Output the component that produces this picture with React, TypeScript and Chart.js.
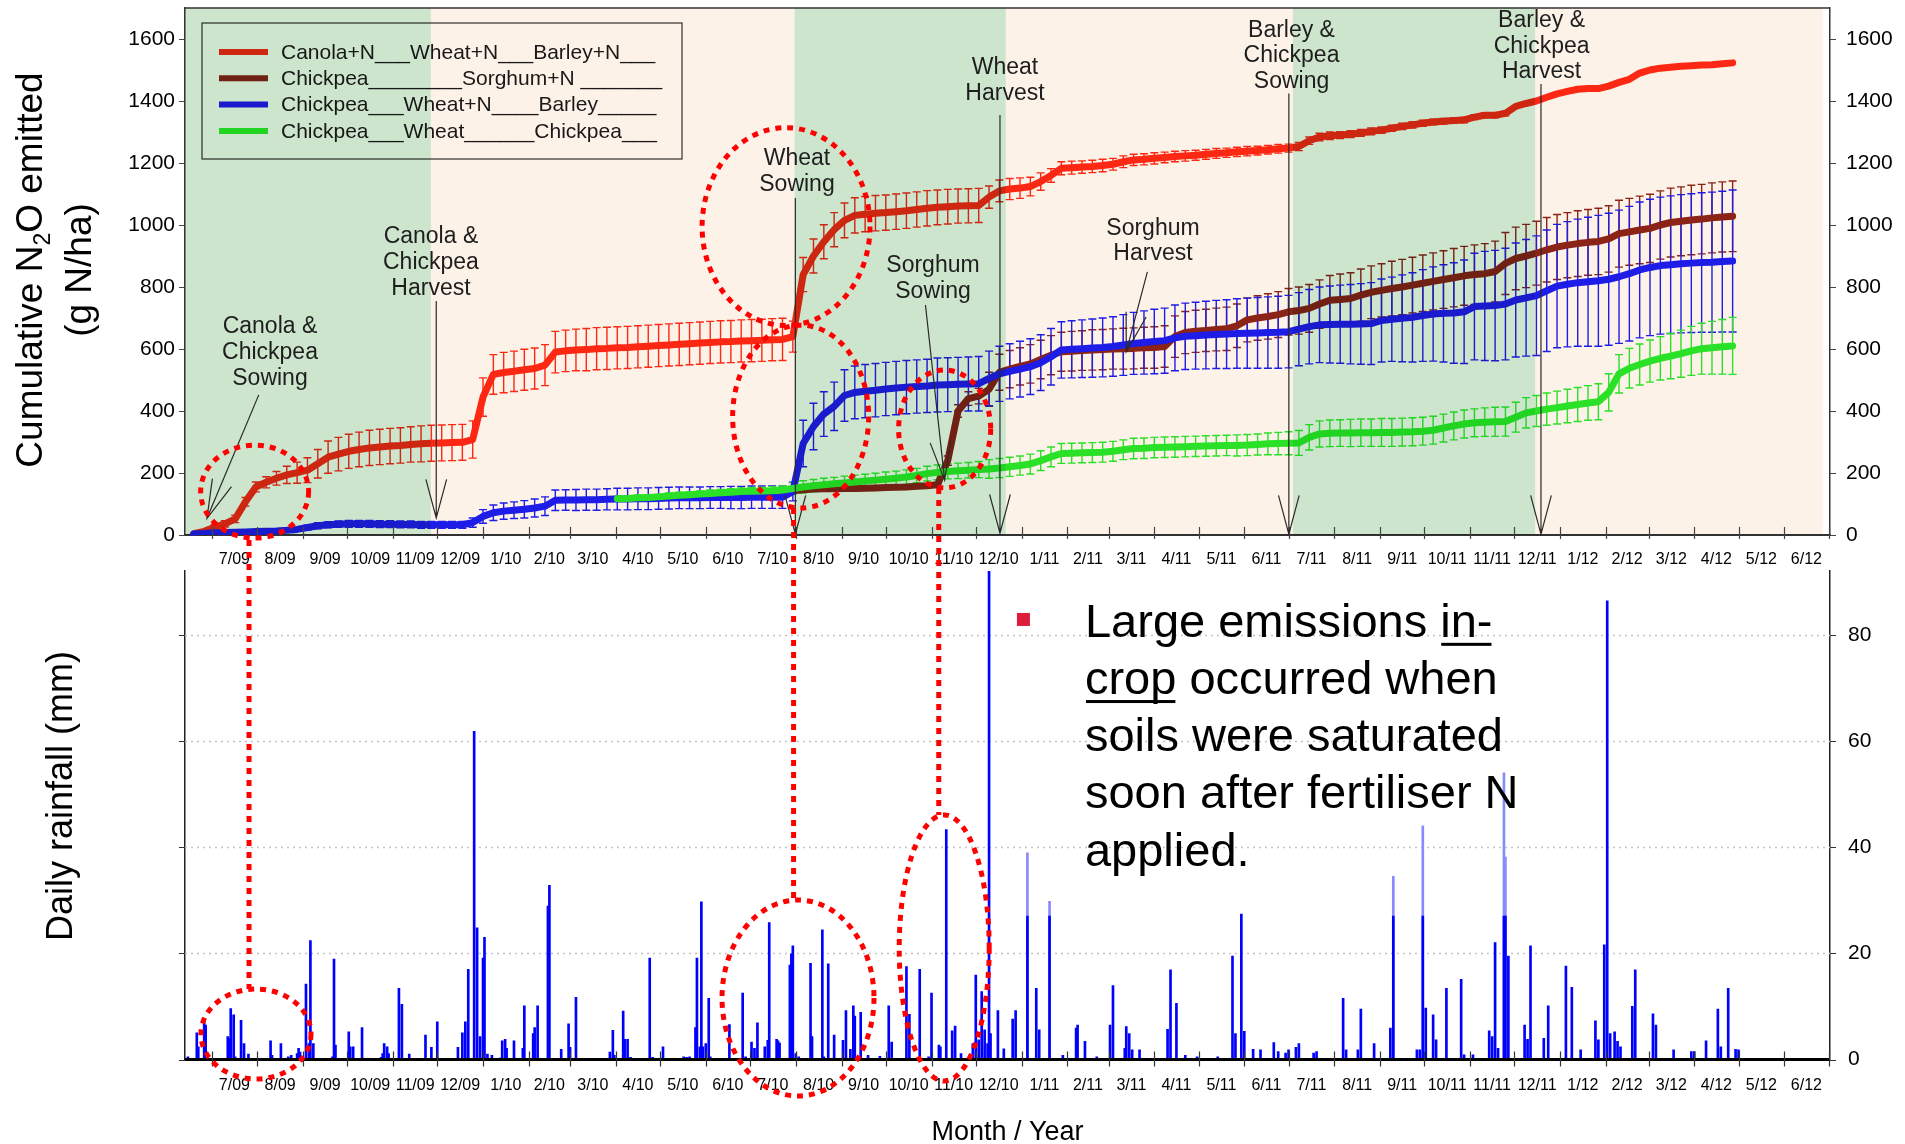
import React, { useEffect, useRef } from 'react';
import { Chart, registerables } from 'chart.js';

Chart.register(...registerables);

const FONT = "'Liberation Sans', Arial, Helvetica, sans-serif";
const CANVAS_W = 1905;
const CANVAS_H = 1144;

// Days are counted from 1 June 2009 (= day 0)
const X_MIN = 12;
const X_MAX = 1127;
const WEEK_START = 18; // first weekly N2O measurement (18 June 2009)
const WEEK_STEP = 7;

const xTickLabels = ['7/09', '8/09', '9/09', '10/09', '11/09', '12/09', '1/10', '2/10', '3/10', '4/10', '5/10', '6/10',
  '7/10', '8/10', '9/10', '10/10', '11/10', '12/10', '1/11', '2/11', '3/11', '4/11', '5/11', '6/11',
  '7/11', '8/11', '9/11', '10/11', '11/11', '12/11', '1/12', '2/12', '3/12', '4/12', '5/12', '6/12'];
const n2oTickValues = [0, 200, 400, 600, 800, 1000, 1200, 1400, 1600];
const rainTickValues = [0, 20, 40, 60, 80];

const legendLabels = [
  'Canola+N___Wheat+N___Barley+N___',
  'Chickpea________Sorghum+N _______',
  'Chickpea___Wheat+N____Barley_____',
  'Chickpea___Wheat______Chickpea___',
];
const seriesColors = ['#ff2a14', '#8c2418', '#1e1eff', '#2aee2a'];

// Weekly cumulative N2O (g N/ha)
const canolaWheatBarley = [4, 12, 25, 36, 52, 107, 155, 170, 183, 194, 201, 209, 230, 251, 261, 270, 276, 281, 284, 287,
  289, 292, 294, 296, 297, 298, 299, 308, 445, 518, 524, 528, 533, 537, 548, 590, 594, 597, 598, 601,
  602, 604, 605, 607, 609, 611, 613, 615, 617, 619, 621, 623, 624, 626, 627, 628, 630, 631, 640, 840,
  900, 946, 985, 1015, 1031, 1035, 1038, 1040, 1043, 1046, 1050, 1054, 1057, 1059, 1061, 1062, 1063, 1090, 1110, 1116,
  1119, 1124, 1140, 1160, 1183, 1185, 1187, 1189, 1192, 1196, 1204, 1210, 1212, 1215, 1218, 1221, 1223, 1225, 1228, 1231,
  1233, 1236, 1238, 1240, 1243, 1246, 1248, 1253, 1272, 1284, 1288, 1290, 1293, 1297, 1302, 1306, 1312, 1318, 1323, 1328,
  1332, 1335, 1337, 1339, 1348, 1354, 1354, 1360, 1383, 1392, 1400, 1412, 1423, 1431, 1438, 1440, 1440, 1448, 1460, 1470,
  1490, 1500, 1506, 1509, 1512, 1514, 1516, 1517, 1520, 1523];
const canolaWheatBarleyErr = [0, 5, 8, 10, 12, 14, 16, 18, 22, 28, 34, 40, 46, 52,
  54, 55, 56, 57, 57, 57, 57, 57, 58, 58, 58, 58, 58,
  60, 62, 64, 65, 65, 66, 66, 66, 67, 67, 67, 68, 68, 68, 68, 68, 68, 68, 68, 68, 68, 68, 68, 68, 68, 68, 68, 68, 68, 68, 68,
  50, 55, 55, 55, 55, 56, 57, 57, 57, 57, 57, 57, 57, 57, 56, 56, 55, 55, 55,
  36, 35, 34, 33, 30, 28,
  22, 21, 21, 20, 20, 20, 19, 19, 18, 18, 18, 17, 17, 17, 16, 16, 16, 15, 15, 15, 14, 14, 14,
  13, 13, 12, 12, 12, 11, 11, 11, 11, 10, 10, 10, 10, 10, 9, 9, 9, 9, 8, 8, 8, 8,
  0, 0, 0, 0, 0, 0, 0, 0, 0, 0, 0, 0, 0, 0, 0, 0, 0, 0, 0, 0, 0, 0];

const N57 = Array(57).fill(null);
const chickpeaSorghum = [...N57, 141, 143, 146, 148, 149, 149, 150, 150, 151, 152,
  153, 154, 155, 157, 159, 162, 240, 400, 440, 448, 470, 525, 535, 544, 552, 566, 580, 591, 593, 595,
  597, 598, 600, 601, 602, 604, 605, 608, 640, 653, 657, 660, 663, 665, 675, 694, 700, 705, 711, 720,
  724, 731, 745, 757, 760, 763, 774, 783, 789, 795, 800, 806, 812, 818, 824, 830, 836, 840, 843, 850,
  876, 892, 900, 909, 920, 929, 935, 940, 944, 947, 955, 972, 978, 984, 989, 1000, 1008, 1012, 1016, 1019,
  1023, 1026, 1028];
const chickpeaSorghumErr = [...N57, 5, 5, 5, 5, 5, 5, 5, 5, 5, 5, 5, 5, 5, 5, 5, 5,
  15, 20, 22, 25,
  55, 58, 60, 60, 62, 62, 63, 63, 64, 64, 65, 65, 65, 66, 66, 66, 67, 67, 67, 68, 68, 68, 69, 70,
  70, 71, 72, 73, 74, 75, 76, 77, 78, 80, 82, 83, 84, 85, 86, 88, 89, 90, 91, 92, 93, 94, 95, 96, 97, 98, 100,
  101, 102, 103, 104, 105, 105, 106, 106, 107, 107, 108, 108, 109, 110, 110, 111, 111, 112, 112, 113, 113, 114];

const chickpeaWheatNBarley = [3, 5, 7, 8, 9, 10, 11, 12, 13, 15, 18, 24, 30, 33, 35, 36, 36, 36, 35, 35,
  34, 34, 33, 33, 33, 33, 33, 40, 60, 72, 77, 80, 83, 87, 93, 112, 113, 113, 114, 114,
  115, 116, 116, 117, 117, 118, 119, 120, 120, 120, 121, 121, 121, 121, 122, 122, 122, 122, 140, 295,
  350, 390, 415, 450, 460, 464, 467, 471, 474, 477, 479, 481, 484, 485, 486, 487, 488, 505, 520, 528,
  535, 543, 556, 575, 597, 599, 601, 603, 605, 608, 613, 618, 621, 624, 627, 636, 641, 643, 645, 647,
  648, 650, 651, 652, 653, 654, 656, 664, 672, 678, 679, 680, 680, 681, 682, 692, 696, 699, 702, 708,
  713, 715, 716, 720, 737, 739, 740, 745, 758, 765, 772, 788, 803, 809, 814, 817, 820, 825, 833, 843,
  855, 863, 869, 872, 875, 877, 879, 880, 882, 884];
const chickpeaWheatNBarleyErr = [2, 3, 3, 3, 3, 4, 4, 4, 5, 5, 6,
  8, 10, 10, 10, 11, 11, 11, 11, 11, 11, 11, 11, 11, 11, 11, 11,
  15, 22, 25, 26, 27, 28, 29, 30,
  33, 33, 34, 34, 34, 34, 35, 35, 35, 35, 35, 35, 35, 35, 35, 35, 35, 36, 36, 36, 36, 36, 36,
  30, 75, 75, 72, 78, 83, 85, 86, 86, 86, 86, 86, 86, 86, 87, 87, 87, 87, 88,
  88, 89, 89, 90, 90, 90, 91, 91, 92, 93, 94, 95, 96, 98,
  100, 102, 104, 105, 106, 107, 108, 109, 110, 111, 112, 113, 114, 115, 116,
  117, 118, 120, 122, 124, 126, 128, 130, 132, 134,
  136, 140, 144, 148, 152, 157, 162, 167, 172, 176,
  178, 180, 184, 188, 193,
  196, 199, 202, 205, 208, 211, 213, 215, 217, 219,
  220, 221, 222, 223, 224, 225, 226, 227, 229];

const N41 = Array(41).fill(null);
const chickpeaWheatChickpea = [...N41, 117, 118, 120, 121, 123, 126, 128, 130, 132, 134,
  136, 138, 140, 141, 142, 143, 145, 150, 155, 159, 162, 165, 168, 171, 174, 177, 180, 183, 187, 192,
  198, 202, 205, 207, 209, 211, 213, 216, 220, 224, 229, 240, 252, 263, 264, 265, 266, 267, 270, 275,
  279, 280, 282, 283, 284, 285, 286, 287, 288, 289, 289, 290, 292, 294, 295, 296, 297, 315, 326, 328,
  329, 329, 330, 330, 331, 331, 332, 333, 335, 338, 345, 352, 358, 362, 364, 365, 366, 380, 394, 400,
  406, 411, 416, 421, 426, 430, 460, 520, 538, 550, 561, 570, 577, 585, 594, 601, 604, 607, 610];
const chickpeaWheatChickpeaErr = [...N41, 8, 8, 9, 9, 9, 10, 10, 10, 10, 11, 11, 11, 12, 12, 12, 13, 13,
  18, 20, 20, 21, 21, 22, 22, 22, 22, 23, 23, 23, 23, 24, 24, 24, 25, 25, 26,
  30, 31, 31, 31, 32, 32, 32, 32, 32, 32, 32, 32, 32, 32, 33, 33, 33, 33, 33, 33, 33, 33, 33, 33, 34, 34, 34, 35, 36, 37,
  40, 41, 42, 43, 43, 44, 44, 44, 45, 45, 45, 45, 45, 45, 45, 45, 45, 45,
  46, 47, 47, 48, 49, 50, 52, 53, 54, 55, 56, 58,
  60, 62, 64, 66, 68, 70, 73, 76, 79, 82, 85, 88, 92];

// Daily rainfall [day, mm]
const dailyRain = [
  [14, 0.5], [20, 5], [21, 2.4], [25, 7.7], [26, 6.5], [41, 4.3], [42, 4], [43, 9.6], [45, 8.4], [46, 0.5], [50, 7.4], [52, 3], [55, 1],
  [70, 3.5], [71, 0.8], [77, 3], [82, 0.5], [84, 0.8], [88, 1.1], [89, 2.1], [90, 1.4], [94, 14.2], [96, 3], [97, 22.4], [99, 3],
  [112, 0.5], [113, 18.9], [114, 2.7], [123, 5.2], [124, 2.4], [126, 2.4], [132, 6], [133, 0.2], [145, 0.4], [146, 1.1], [147, 3],
  [149, 2.4], [150, 1.1], [157, 13.4], [159, 10.4], [164, 1], [175, 4.6], [179, 2.3], [183, 7.1], [186, 0.2], [197, 2.3], [200, 5],
  [202, 7.1], [204, 17], [208, 61.8], [210, 24.8], [212, 4.3], [214, 19.1], [215, 23], [217, 1], [220, 0.8], [226, 0.3], [227, 3.5],
  [229, 3.8], [230, 2.1], [235, 3.5], [241, 2.1], [242, 10.1], [248, 4.9], [249, 6], [251, 10.1], [258, 28.9], [259, 32.8], [267, 1.9],
  [272, 6.7], [273, 2.3], [277, 11.7], [278, 0.2], [300, 1.4], [302, 5.5], [303, 0.8], [309, 9.1], [310, 3.8], [312, 3.8], [314, 0.4],
  [327, 19.1], [329, 0.4], [336, 2.4], [350, 0.5], [352, 0.4], [354, 0.5], [358, 6], [359, 19.1], [361, 2.4], [362, 29.7], [363, 2.4],
  [365, 3], [367, 11.5], [368, 0.5], [378, 0.2], [381, 6.6], [390, 12.5], [392, 0.5], [396, 3.3], [398, 2.1], [400, 6.9], [405, 2.4],
  [407, 3.6], [408, 25.8], [413, 3.8], [414, 3.5], [415, 3.1], [422, 17.8], [423, 19.9], [424, 21.4], [426, 1.1], [428, 0.5], [436, 18.1],
  [437, 4.3], [441, 0.2], [444, 24.4], [445, 0.5], [448, 18], [452, 4.6], [458, 3.6], [460, 9.2], [463, 1.9], [465, 10.1], [466, 8.2],
  [470, 8.9], [475, 0.8], [483, 0.6], [489, 10.1], [491, 3.3], [501, 17.5], [503, 8.5], [510, 17], [516, 0.5], [518, 12.5], [523, 2.7],
  [524, 2.4], [528, 43.3], [532, 5.4], [534, 6.3], [538, 1.1], [546, 3], [548, 15.9], [550, 3.7], [552, 12.8], [554, 5.6], [556, 3],
  [557, 95], [558, 4.9], [563, 9.2], [567, 2], [573, 7.6], [575, 9.2], [583, 27], [589, 13.4], [591, 5.6], [598, 27], [607, 0.8],
  [616, 5.9], [617, 6.5], [622, 3.4], [630, 0.5], [639, 6.5], [641, 13.9], [649, 2.1], [650, 6.2], [652, 4.9], [654, 1.8], [659, 1.8],
  [678, 5.7], [680, 16.9], [684, 10.6], [690, 0.8], [698, 0.5], [712, 0.5], [722, 19.5], [724, 4.9], [728, 27.4], [730, 5.3], [736, 1.9],
  [741, 1.8], [750, 3.2], [753, 1.5], [758, 1.2], [760, 1.8], [765, 2.3], [767, 3], [777, 1.2], [779, 1.5], [797, 11.5], [799, 1.8],
  [807, 1.8], [809, 9.5], [818, 3], [829, 5.9], [831, 27], [847, 1.8], [849, 1.8], [851, 27], [853, 9.7], [858, 8.4], [860, 3.7],
  [867, 13.4], [877, 15.1], [879, 0.9], [885, 0.9], [896, 5.4], [898, 4.3], [900, 22], [902, 2.1], [906, 27], [907, 27], [909, 19.5],
  [920, 6.5], [922, 3.8], [924, 21.4], [933, 4], [936, 10.1], [948, 17.6], [952, 13.6], [958, 1.8], [968, 7.3], [970, 3.7], [974, 21.6],
  [976, 86.4], [978, 4.9], [981, 5.2], [983, 3.4], [985, 2.4], [993, 10], [995, 16.9], [1007, 8.6], [1009, 6.5], [1021, 1.8], [1033, 1.5],
  [1035, 1.5], [1043, 3.5], [1051, 9.5], [1053, 2.4], [1058, 13.4], [1063, 1.9], [1065, 1.8],
];
const secondGaugeRain = [[583, 38.9], [598, 29.8], [831, 34.5], [851, 44], [906, 54], [907, 38.1]];

// Crop periods (day edges) and their shading
const cropPeriodEdges = [12, 178.6, 425.2, 568.3, 763, 927.1, 1122];
const cropPeriodShades = ['#cde4cd', '#fdf2e8', '#cde4cd', '#fdf2e8', '#cde4cd', '#fdf2e8'];

// Crop event annotations: text lines, text centre [day, g N/ha], arrow from / to [day, g N/ha]
const cropEventLabels = [
  ['Canola &', 'Chickpea', 'Sowing'],
  ['Canola &', 'Chickpea', 'Harvest'],
  ['Wheat', 'Sowing'],
  ['Sorghum', 'Sowing'],
  ['Wheat', 'Harvest'],
  ['Sorghum', 'Harvest'],
  ['Barley &', 'Chickpea', 'Sowing'],
  ['Barley &', 'Chickpea', 'Harvest'],
];
const cropEventTextAt = [[69.6, 671], [178.7, 961], [426.8, 1213], [519, 868], [567.8, 1506], [668.1, 989], [762, 1628], [931.5, 1659]];
const cropEventArrowFrom = [[62, 452], [182.3, 755], [425.7, 1087], [513.9, 742], [564.4, 1355], [664.3, 849], [760.2, 1424], [931.1, 1455]];
const cropEventArrowTo = [[26.9, 54], [182.3, 55], [425.7, 3], [526.9, 177], [564.4, 6], [650, 591], [760.2, 3], [931.1, 3]];

// Red dotted highlights: [centre day, centre value, radius days, radius value]
const n2oHighlights = [[59.2, 140, 36.6, 150], [419.4, 995, 56.9, 319], [429.3, 382, 46.1, 295], [526.9, 342, 31.2, 190]];
const rainHighlights = [[60.1, 4.8, 37.3, 8.47], [427.5, 11.58, 51.5, 18.46], [526.6, 21, 30.5, 25.05]];
const highlightLinks = [[55.4, -16, 13.28], [424.5, 87, 30.04], [522.9, 152, 46.05]]; // day, from g N/ha, to mm

const n2oTitle = ['Cumulative N', '2', 'O emitted'];
const n2oUnit = '(g N/ha)';
const rainTitle = 'Daily rainfall (mm)';
const xTitle = 'Month / Year';
const noteLines = [
  [{ t: 'Large emissions ' }, { t: 'in-', u: true }],
  [{ t: 'crop', u: true }, { t: ' occurred when' }],
  [{ t: 'soils were saturated' }],
  [{ t: 'soon after fertiliser N' }],
  [{ t: 'applied.' }],
];
const noteAt = [622, 79.6];
const bulletAt = [575.9, 84.1];

// ---------- derived tables ----------
const DAY_MS = 86400000;
const ORIGIN = Date.UTC(2009, 5, 1);
const monthStartDays = Array.from({ length: 37 }, (_, i) => Math.round((Date.UTC(2009, 6 + i, 1) - ORIGIN) / DAY_MS));
const monthMidDays = monthStartDays.slice(0, 36).map((d, i) => (d + monthStartDays[i + 1]) / 2);

const weekDay = (k: number) => WEEK_START + k * WEEK_STEP;
const toPoints = (vals: (number | null)[]) =>
  vals.map((v, k) => (v == null ? null : { x: weekDay(k), y: v })).filter((p) => p !== null);

const n2oSeries = [
  { values: canolaWheatBarley, errors: canolaWheatBarleyErr, color: seriesColors[0] },
  { values: chickpeaSorghum, errors: chickpeaSorghumErr, color: seriesColors[1] },
  { values: chickpeaWheatNBarley, errors: chickpeaWheatNBarleyErr, color: seriesColors[2] },
  { values: chickpeaWheatChickpea, errors: chickpeaWheatChickpeaErr, color: seriesColors[3] },
];

function drawArrow(ctx: any, x1: number, y1: number, x2: number, y2: number) {
  ctx.beginPath();
  ctx.moveTo(x1, y1);
  ctx.lineTo(x2, y2);
  const ang = Math.atan2(y1 - y2, x1 - x2);
  const L = 40;
  const a = (15 * Math.PI) / 180;
  ctx.moveTo(x2 + L * Math.cos(ang + a), y2 + L * Math.sin(ang + a));
  ctx.lineTo(x2, y2);
  ctx.lineTo(x2 + L * Math.cos(ang - a), y2 + L * Math.sin(ang - a));
  ctx.stroke();
}

function drawRotatedParts(ctx: any, bx: number, cy: number, parts: { t: string; sub?: boolean }[], size: number) {
  ctx.save();
  ctx.translate(bx, cy);
  ctx.rotate(-Math.PI / 2);
  ctx.textBaseline = 'alphabetic';
  ctx.textAlign = 'left';
  const widths = parts.map((p) => {
    ctx.font = `${p.sub ? Math.round(size * 0.62) : size}px ${FONT}`;
    return ctx.measureText(p.t).width;
  });
  const total = widths.reduce((a, b) => a + b, 0);
  let x = -total / 2;
  parts.forEach((p, i) => {
    ctx.font = `${p.sub ? Math.round(size * 0.62) : size}px ${FONT}`;
    ctx.fillText(p.t, x, p.sub ? size * 0.22 : 0);
    x += widths[i];
  });
  ctx.restore();
}

const topPlugin = {
  id: 'n2oDecor',
  beforeDraw(chart: any) {
    const { ctx } = chart;
    ctx.save();
    ctx.fillStyle = '#ffffff';
    ctx.fillRect(0, 0, chart.width, chart.height);
    ctx.restore();
  },
  beforeDatasetsDraw(chart: any) {
    const { ctx, chartArea: ca } = chart;
    const x = chart.scales.x;
    const y = chart.scales.y;
    ctx.save();
    ctx.beginPath();
    ctx.rect(ca.left, ca.top, ca.right - ca.left, ca.bottom - ca.top + 4);
    ctx.clip();
    ctx.lineWidth = 1.4;
    n2oSeries.forEach((s) => {
      ctx.strokeStyle = s.color;
      s.values.forEach((v: any, k: number) => {
        const e = s.errors[k];
        if (v == null || !e) return;
        const px = x.getPixelForValue(weekDay(k));
        const t = y.getPixelForValue(v + e);
        const b = y.getPixelForValue(v - e);
        ctx.beginPath();
        ctx.moveTo(px, t);
        ctx.lineTo(px, b);
        ctx.moveTo(px - 4, t);
        ctx.lineTo(px + 4, t);
        ctx.moveTo(px - 4, b);
        ctx.lineTo(px + 4, b);
        ctx.stroke();
      });
    });
    ctx.restore();
  },
  afterDatasetsDraw(chart: any) {
    const { ctx, chartArea: ca } = chart;
    const x = chart.scales.x;
    const y = chart.scales.y;
    // legend
    ctx.save();
    const lx = ca.left + 17;
    const ly = ca.top + 15;
    ctx.strokeStyle = '#333';
    ctx.lineWidth = 1.2;
    ctx.strokeRect(lx, ly, 480, 136);
    legendLabels.forEach((lab, i) => {
      const ry = ly + 29 + i * 26.3;
      ctx.strokeStyle = seriesColors[i];
      ctx.lineWidth = 6;
      ctx.beginPath();
      ctx.moveTo(lx + 17, ry);
      ctx.lineTo(lx + 66, ry);
      ctx.stroke();
      ctx.fillStyle = '#1a1a1a';
      ctx.font = `21px ${FONT}`;
      ctx.textBaseline = 'middle';
      ctx.textAlign = 'left';
      ctx.fillText(lab, lx + 79, ry + 1);
    });
    ctx.restore();
    // crop period shading (multiplied over the plot)
    ctx.save();
    ctx.globalCompositeOperation = 'multiply';
    cropPeriodShades.forEach((c, i) => {
      const l = x.getPixelForValue(cropPeriodEdges[i]);
      const r = x.getPixelForValue(cropPeriodEdges[i + 1]);
      ctx.fillStyle = c;
      ctx.fillRect(l, ca.top, r - l, ca.bottom - ca.top);
    });
    ctx.restore();
    // frame and ticks
    ctx.save();
    ctx.strokeStyle = '#333';
    ctx.lineWidth = 1.5;
    ctx.beginPath();
    ctx.moveTo(ca.left, ca.top);
    ctx.lineTo(ca.right, ca.top);
    ctx.stroke();
    ctx.strokeStyle = '#444';
    ctx.lineWidth = 1.2;
    ctx.beginPath();
    monthStartDays.forEach((d) => {
      if (d < X_MIN || d > X_MAX) return;
      const px = Math.round(x.getPixelForValue(d)) + 0.5;
      ctx.moveTo(px, ca.bottom - 8);
      ctx.lineTo(px, ca.bottom + 4);
    });
    n2oTickValues.forEach((v) => {
      const py = Math.round(y.getPixelForValue(v)) + 0.5;
      ctx.moveTo(ca.left - 6, py);
      ctx.lineTo(ca.left, py);
      ctx.moveTo(ca.right, py);
      ctx.lineTo(ca.right + 6, py);
    });
    ctx.stroke();
    ctx.restore();
  },
  afterDraw(chart: any) {
    const { ctx } = chart;
    const x = chart.scales.x;
    const y = chart.scales.y;
    ctx.save();
    ctx.strokeStyle = '#2a2a2a';
    ctx.lineWidth = 1.2;
    cropEventArrowFrom.forEach((f, i) => {
      const t = cropEventArrowTo[i];
      drawArrow(ctx, x.getPixelForValue(f[0]), y.getPixelForValue(f[1]), x.getPixelForValue(t[0]), y.getPixelForValue(t[1]));
    });
    ctx.fillStyle = '#1e1e1e';
    ctx.font = `23px ${FONT}`;
    ctx.textAlign = 'center';
    ctx.textBaseline = 'middle';
    cropEventLabels.forEach((lines, i) => {
      const cx = x.getPixelForValue(cropEventTextAt[i][0]);
      const cy = y.getPixelForValue(cropEventTextAt[i][1]);
      lines.forEach((ln, j) => ctx.fillText(ln, cx, cy + j * 25.6));
    });
    ctx.fillStyle = '#000';
    drawRotatedParts(ctx, 41.5, 270, [{ t: n2oTitle[0] }, { t: n2oTitle[1], sub: true }, { t: n2oTitle[2] }], 37);
    drawRotatedParts(ctx, 91, 270, [{ t: n2oUnit }], 37);
    ctx.restore();
  },
};

function makeBottomPlugin(topChart: any) {
  return {
    id: 'rainDecor',
    beforeDatasetsDraw(chart: any) {
      const { ctx, chartArea: ca } = chart;
      const y = chart.scales.y;
      ctx.save();
      ctx.strokeStyle = '#c4c4c4';
      ctx.lineWidth = 1.5;
      ctx.setLineDash([2, 4]);
      ctx.beginPath();
      rainTickValues.forEach((v) => {
        if (v === 0) return;
        const py = Math.round(y.getPixelForValue(v)) + 0.5;
        ctx.moveTo(ca.left, py);
        ctx.lineTo(ca.right, py);
      });
      ctx.stroke();
      ctx.restore();
    },
    afterDatasetsDraw(chart: any) {
      const { ctx, chartArea: ca } = chart;
      const x = chart.scales.x;
      const y = chart.scales.y;
      ctx.save();
      ctx.strokeStyle = '#000';
      ctx.lineWidth = 3;
      ctx.beginPath();
      ctx.moveTo(ca.left, ca.bottom);
      ctx.lineTo(ca.right, ca.bottom);
      ctx.stroke();
      ctx.lineWidth = 1.2;
      ctx.strokeStyle = '#333';
      ctx.beginPath();
      monthStartDays.forEach((d) => {
        if (d < X_MIN || d > X_MAX) return;
        const px = Math.round(x.getPixelForValue(d)) + 0.5;
        ctx.moveTo(px, ca.bottom - 8);
        ctx.lineTo(px, ca.bottom + 7);
      });
      rainTickValues.forEach((v) => {
        const py = Math.round(y.getPixelForValue(v)) + 0.5;
        ctx.moveTo(ca.left - 6, py);
        ctx.lineTo(ca.left, py);
        ctx.moveTo(ca.right, py);
        ctx.lineTo(ca.right + 6, py);
      });
      ctx.stroke();
      ctx.restore();
    },
    afterDraw(chart: any) {
      const { ctx, chartArea: ca } = chart;
      const bx = chart.scales.x;
      const by = chart.scales.y;
      const tx = topChart.scales.x;
      const ty = topChart.scales.y;
      ctx.save();
      ctx.fillStyle = '#000';
      drawRotatedParts(ctx, 72, 796, [{ t: rainTitle }], 36);
      ctx.font = `27px ${FONT}`;
      ctx.textAlign = 'center';
      ctx.textBaseline = 'alphabetic';
      ctx.fillText(xTitle, (ca.left + ca.right) / 2, 1140);
      // note
      ctx.fillStyle = '#dc1e3c';
      ctx.fillRect(bx.getPixelForValue(bulletAt[0]), by.getPixelForValue(bulletAt[1]), 13, 13);
      ctx.fillStyle = '#000';
      ctx.font = `47px ${FONT}`;
      ctx.textAlign = 'left';
      const nx = bx.getPixelForValue(noteAt[0]);
      const ny = by.getPixelForValue(noteAt[1]);
      noteLines.forEach((parts, i) => {
        let cx = nx;
        const cy = ny + i * 57.2;
        parts.forEach((p: any) => {
          ctx.fillText(p.t, cx, cy);
          const w = ctx.measureText(p.t).width;
          if (p.u) ctx.fillRect(cx + 1, cy + 6, w - 2, 3);
          cx += w;
        });
      });
      // red dotted highlights
      ctx.strokeStyle = '#ff0000';
      ctx.lineWidth = 5;
      ctx.setLineDash([6, 6]);
      const ell = (sx: any, sy: any, h: number[]) => {
        const cx = sx.getPixelForValue(h[0]);
        const cy = sy.getPixelForValue(h[1]);
        const rx = Math.abs(sx.getPixelForValue(h[0] + h[2]) - cx);
        const ry = Math.abs(sy.getPixelForValue(h[1] + h[3]) - cy);
        ctx.beginPath();
        ctx.ellipse(cx, cy, rx, ry, 0, 0, Math.PI * 2);
        ctx.stroke();
      };
      n2oHighlights.forEach((h) => ell(tx, ty, h));
      rainHighlights.forEach((h) => ell(bx, by, h));
      highlightLinks.forEach(([d, v, mm]) => {
        const px = tx.getPixelForValue(d);
        ctx.beginPath();
        ctx.moveTo(px, ty.getPixelForValue(v));
        ctx.lineTo(bx.getPixelForValue(d), by.getPixelForValue(mm));
        ctx.stroke();
      });
      ctx.restore();
    },
  };
}

function resetPad(s: any) {
  s.paddingTop = 0;
  s.paddingBottom = 0;
}

const plainNumber = (v: any) => String(v);

export default function App() {
  const topRef = useRef<HTMLCanvasElement>(null);
  const bottomRef = useRef<HTMLCanvasElement>(null);

  useEffect(() => {
    Chart.defaults.font.family = FONT;
    Chart.defaults.color = '#000';
    const xTicks = {
      autoSkip: false,
      maxRotation: 0,
      minRotation: 0,
      font: { size: 16 },
      color: '#000',
      callback: (_v: any, i: number) => xTickLabels[i],
    };
    const lineDs = (i: number, vals: any[], order: number) => ({
      label: legendLabels[i],
      data: toPoints(vals),
      borderColor: seriesColors[i],
      backgroundColor: seriesColors[i],
      borderWidth: 7,
      pointRadius: 0,
      tension: 0,
      borderJoinStyle: 'round',
      borderCapStyle: 'round',
      fill: false,
      order,
    });
    const top = new Chart(topRef.current as HTMLCanvasElement, {
      type: 'line',
      data: {
        datasets: [
          lineDs(0, canolaWheatBarley, 4),
          lineDs(1, chickpeaSorghum, 3),
          lineDs(2, chickpeaWheatNBarley, 2),
          lineDs(3, chickpeaWheatChickpea, 1),
        ] as any,
      },
      options: {
        responsive: false,
        animation: false,
        events: [],
        layout: { padding: { top: 8, bottom: 564, left: 0, right: 0 } },
        plugins: { legend: { display: false }, tooltip: { enabled: false } },
        scales: {
          x: {
            type: 'linear', min: X_MIN, max: X_MAX,
            afterBuildTicks: (s: any) => { s.ticks = monthMidDays.map((v) => ({ value: v })); },
            ticks: { ...xTicks, padding: 15 },
            grid: { display: false, drawTicks: false },
            border: { display: true, color: '#333', width: 2 },
            afterFit: (s: any) => { s.height = 45; },
          },
          y: {
            position: 'left', min: 0, max: 1700,
            afterBuildTicks: (s: any) => { s.ticks = n2oTickValues.map((v) => ({ value: v })); },
            ticks: { padding: 10, font: { size: 21 }, color: '#000', callback: plainNumber },
            grid: { display: false, drawTicks: false },
            border: { display: true, color: '#333', width: 1.5 },
            afterFit: (s: any) => { s.width = 185; resetPad(s); },
          },
          y2: {
            position: 'right', min: 0, max: 1700,
            afterBuildTicks: (s: any) => { s.ticks = n2oTickValues.map((v) => ({ value: v })); },
            ticks: { padding: 16, font: { size: 21 }, color: '#000', callback: plainNumber },
            grid: { display: false, drawTicks: false },
            border: { display: true, color: '#333', width: 1.5 },
            afterFit: (s: any) => { s.width = 75; resetPad(s); },
          },
        },
      } as any,
      plugins: [topPlugin],
    });

    const bottom = new Chart(bottomRef.current as HTMLCanvasElement, {
      type: 'bar',
      data: {
        datasets: [
          {
            label: 'Daily rainfall',
            data: dailyRain.map(([d, mm]) => ({ x: d, y: mm })),
            backgroundColor: '#0000ff',
            barThickness: 2,
            grouped: false,
            order: 1,
          },
          {
            label: 'Daily rainfall (second gauge)',
            data: secondGaugeRain.map(([d, mm]) => ({ x: d, y: mm })),
            backgroundColor: '#8a8aff',
            barThickness: 2,
            grouped: false,
            order: 2,
          },
        ] as any,
      },
      options: {
        responsive: false,
        animation: false,
        events: [],
        layout: { padding: { top: 571, bottom: 0, left: 0, right: 0 } },
        plugins: { legend: { display: false }, tooltip: { enabled: false } },
        scales: {
          x: {
            type: 'linear', min: X_MIN, max: X_MAX, offset: false,
            afterBuildTicks: (s: any) => { s.ticks = monthMidDays.map((v) => ({ value: v })); },
            ticks: { ...xTicks, padding: 16 },
            grid: { display: false, drawTicks: false, offset: false },
            border: { display: false },
            afterFit: (s: any) => { s.height = 84.5; },
          },
          y: {
            position: 'left', min: 0, max: 92,
            ticks: { display: false },
            grid: { display: false, drawTicks: false },
            border: { display: true, color: '#222', width: 1.5 },
            afterFit: (s: any) => { s.width = 185; resetPad(s); },
          },
          y2: {
            position: 'right', min: 0, max: 92,
            afterBuildTicks: (s: any) => { s.ticks = rainTickValues.map((v) => ({ value: v })); },
            ticks: { padding: 18, font: { size: 21 }, color: '#000', callback: plainNumber },
            grid: { display: false, drawTicks: false },
            border: { display: true, color: '#222', width: 1.5 },
            afterFit: (s: any) => { s.width = 75; resetPad(s); },
          },
        },
      } as any,
      plugins: [makeBottomPlugin(top)],
    });

    return () => {
      bottom.destroy();
      top.destroy();
    };
  }, []);

  return (
    <div style={{ position: 'fixed', left: 0, top: 0, width: CANVAS_W, height: CANVAS_H, background: '#fff', overflow: 'hidden' }}>
      <canvas ref={topRef} width={CANVAS_W} height={CANVAS_H} style={{ position: 'absolute', left: 0, top: 0 }} />
      <canvas ref={bottomRef} width={CANVAS_W} height={CANVAS_H} style={{ position: 'absolute', left: 0, top: 0 }} />
    </div>
  );
}
